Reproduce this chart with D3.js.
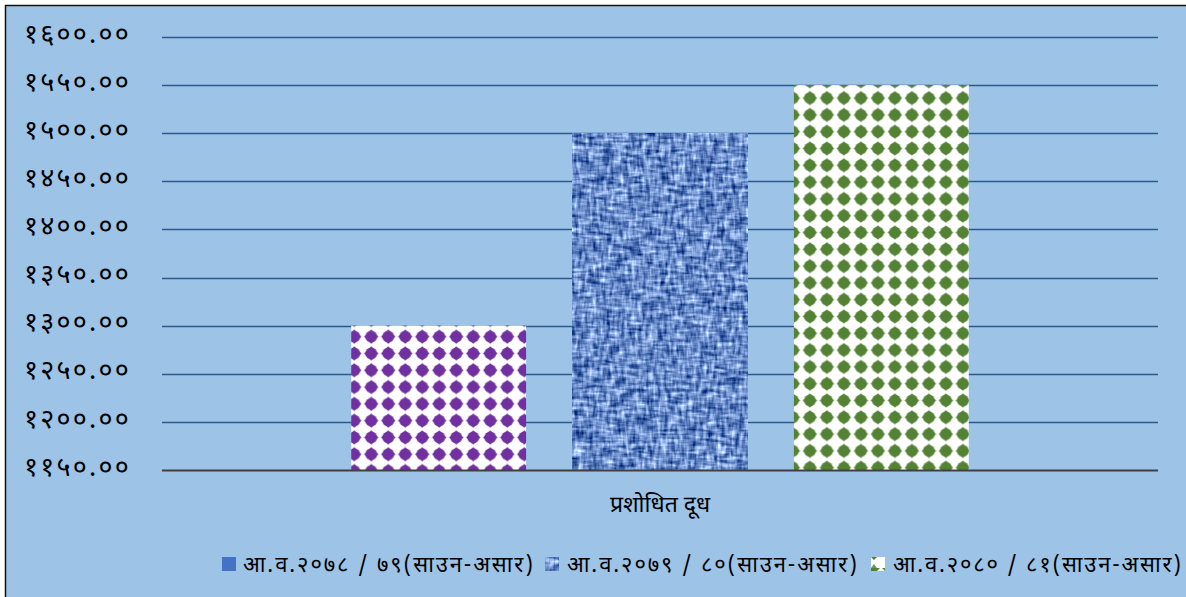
<!DOCTYPE html>
<html><head><meta charset="utf-8">
<script src="https://cdn.jsdelivr.net/npm/d3@7"></script>
<style>
html,body{margin:0;padding:0;background:#fff;}
svg{display:block;}
text{font-family:"Noto Sans Devanagari","Mangal","Noto Sans","Lato",sans-serif;fill:#000;}
</style></head><body>
<svg id="c" width="1186" height="597"></svg>
<script>
const categories = ["प्रशोधित दूध"];
const seriesNames = ["आ.व.२०७८/७९(साउन-असार)", "आ.व.२०७९/८०(साउन-असार)", "आ.व.२०८०/८१(साउन-असार)"];
const seriesValues = [1300, 1500, 1550];
const yTicks = [1150, 1200, 1250, 1300, 1350, 1400, 1450, 1500, 1550, 1600];

const devDigits = "०१२३४५६७८९";
const toDev = s => String(s).replace(/[0-9]/g, d => devDigits[+d]);
const fmtSlash = s => s.replace("/", " / ");

const svg = d3.select("#c");
const W = 1186, H = 597;
const m = {l:162, r:1158, t:37, b:470};

svg.append("rect").attr("x",5).attr("y",5).attr("width",W-5).attr("height",H-5).attr("fill","#9dc3e6");
svg.append("line").attr("x1",5).attr("x2",W).attr("y1",5.5).attr("y2",5.5).attr("stroke","#111").attr("stroke-width",1.5);
svg.append("line").attr("x1",5.5).attr("x2",5.5).attr("y1",5).attr("y2",H).attr("stroke","#111").attr("stroke-width",1.5);

const defs = svg.append("defs");

const f = defs.append("filter").attr("id","denim").attr("x",0).attr("y",0).attr("width","100%").attr("height","100%")
  .attr("filterUnits","objectBoundingBox").attr("color-interpolation-filters","sRGB");
f.append("feTurbulence").attr("type","fractalNoise").attr("baseFrequency","0.07 0.28").attr("numOctaves",2).attr("seed",3).attr("result","a");
f.append("feTurbulence").attr("type","fractalNoise").attr("baseFrequency","0.28 0.07").attr("numOctaves",2).attr("seed",7).attr("result","b");
f.append("feComposite").attr("in","a").attr("in2","b").attr("operator","arithmetic").attr("k2",0.5).attr("k3",0.5).attr("result","c");
f.append("feColorMatrix").attr("in","c").attr("type","matrix")
  .attr("values","1.7 0 0 0 -0.44  1.6 0 0 0 -0.26  1.3 0 0 0 0.13  0 0 0 0 1");

const x0 = d3.scaleBand().domain(categories).range([m.l, m.r]);
const band = x0.bandwidth();
const x1s = d3.scaleBand().domain(seriesNames).range([band*0.19, band*0.81]).paddingInner(0.21);
const y = d3.scaleLinear().domain([1150, 1600]).range([m.b, m.t]);

function dotPattern(id, color, ox, oy){
  const p = defs.append("pattern").attr("id",id).attr("patternUnits","userSpaceOnUse")
    .attr("width",17).attr("height",16.8).attr("x",ox).attr("y",oy);
  p.append("rect").attr("width",17).attr("height",16.8).attr("fill","#fff");
  const cx=8.5, cy=8.4;
  p.append("path").attr("d",`M${cx-7.2},${cy} L${cx},${cy-7.2} L${cx+7.2},${cy} L${cx},${cy+7.2} Z`).attr("fill",color);
  p.append("circle").attr("cx",cx).attr("cy",cy).attr("r",5.9).attr("fill",color);
  return id;
}

svg.append("g").selectAll("line").data(yTicks.slice(1)).join("line")
  .attr("x1",m.l).attr("x2",m.r).attr("y1",d=>Math.round(y(d))+0.5).attr("y2",d=>Math.round(y(d))+0.5)
  .attr("stroke","#2b5b8e").attr("stroke-width",1.6);

svg.append("g").selectAll("text").data(yTicks).join("text")
  .attr("x",131).attr("y",d=>y(d)-4).attr("dy","0.36em").attr("text-anchor","end")
  .attr("font-size",27).attr("letter-spacing","2.2px").text(d=>toDev(d.toFixed(2)));

const barInfo = seriesNames.map((s,i)=>({s, v:seriesValues[i], i}));
const gx = x0(categories[0]);
barInfo.forEach(d=>{
  const bx = gx + x1s(d.s), bw = x1s.bandwidth(), by = y(d.v), bh = y(1150) - y(d.v);
  if(d.i===1){
    svg.append("rect").attr("x",bx).attr("y",by).attr("width",bw).attr("height",bh).attr("fill","#5a7fc0").attr("filter","url(#denim)");
  } else {
    const id = d.i===0 ? dotPattern("pp", "#7030a0", bx+3-8.5, by+11-8.4) : dotPattern("pg", "#548235", bx-1-8.5, by+13-8.4);
    svg.append("rect").attr("x",bx).attr("y",by).attr("width",bw).attr("height",bh).attr("fill",`url(#${id})`);
  }
});

svg.append("line").attr("x1",m.l).attr("x2",m.r).attr("y1",y(1150)+0.5).attr("y2",y(1150)+0.5).attr("stroke","#404040").attr("stroke-width",2);

svg.append("text").attr("x",gx+band/2).attr("y",512).attr("text-anchor","middle").attr("font-size",23).text(categories[0]);

const legX = [222, 545, 871];
const lg = svg.append("g");
seriesNames.forEach((s,i)=>{
  const g = lg.append("g").attr("transform",`translate(${legX[i]},557)`);
  if(i===0) g.append("rect").attr("width",14).attr("height",14).attr("fill","#4472c4");
  if(i===1) g.append("rect").attr("width",14).attr("height",14).attr("fill","#5a7fc0").attr("filter","url(#denim)");
  if(i===2){
    const p = defs.append("pattern").attr("id","pgl").attr("patternUnits","userSpaceOnUse").attr("width",14).attr("height",14).attr("x",legX[i]).attr("y",557);
    p.append("rect").attr("width",14).attr("height",14).attr("fill","#fff");
    p.append("path").attr("d","M0,0 L6,0 L0,6 Z M14,0 L8,0 L14,6 Z").attr("fill","#548235");
    p.append("path").attr("d","M0,14 L0,10 L3,14 Z M14,14 L14,10 L11,14 Z").attr("fill","#6a9a50");
    g.append("rect").attr("width",14).attr("height",14).attr("fill","url(#pgl)");
  }
  g.append("text").attr("x",i===0?21:22).attr("y",7).attr("dy","0.36em").attr("font-size",22)
    .attr("textLength", i===2 ? 288 : 290).attr("lengthAdjust","spacing").text(fmtSlash(s));
});
</script>
</body></html>
